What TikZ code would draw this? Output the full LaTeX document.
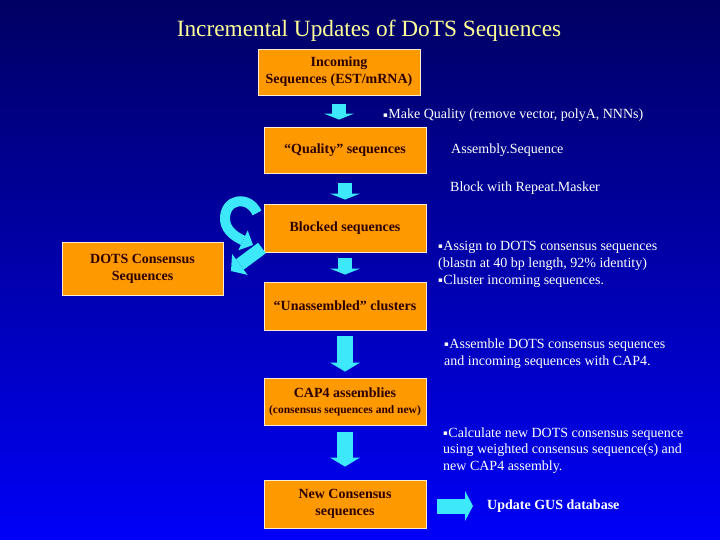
\documentclass[tikz,border=0pt]{standalone}
\usepackage{fontspec}
\setmainfont{Liberation Serif}
\newfontfamily\symfont{DejaVu Sans}
\usetikzlibrary{arrows.meta}
\definecolor{bgtop}{RGB}{0,0,98}
\definecolor{bgbot}{RGB}{0,0,248}
\definecolor{boxfill}{RGB}{255,153,0}
\definecolor{boxline}{RGB}{255,235,210}
\definecolor{boxtext}{RGB}{45,0,0}
\definecolor{titlecol}{RGB}{255,255,153}
\definecolor{arrowcol}{RGB}{60,232,250}
\newcommand\bul{\raisebox{1.6pt}{\symfont\fontsize{7}{7}\selectfont ▪}\hspace{0.5pt}}
\begin{document}
\begin{tikzpicture}[x=1pt,y=-1pt,
  box/.style={fill=boxfill, draw=boxline, line width=0.8pt, inner sep=0pt, align=center,
    text=boxtext, font=\fontsize{14}{17}\selectfont\bfseries},
  note/.style={anchor=base west, inner sep=0pt, text=white, font=\fontsize{14}{17}\selectfont},
  smallarr/.style={arrowcol, line width=14pt, -{Triangle[width=30pt,length=6pt,line width=0pt]}},
  bigarr/.style={arrowcol, line width=16pt, -{Triangle[width=30pt,length=9pt,line width=0pt]}},
  sidearr/.style={arrowcol, line width=15pt, -{Triangle[width=30pt,length=8pt,line width=0pt]}}
]
\useasboundingbox (0,0) rectangle (720,540);
\shade[top color=bgtop, bottom color=bgbot] (0,0) rectangle (720,540);

\node[font=\fontsize{23.3}{27}\selectfont, text=titlecol, anchor=base, inner sep=0pt] (title) at (369,37)
  {Incremental Updates of DoTS Sequences};

\node[box, minimum width=162pt, minimum height=46pt] (b1) at (339,72) {Incoming\\Sequences (EST/mRNA)};
\node[box, minimum width=162pt, minimum height=46pt] (b2) at (345,150) {“Quality” sequences};
\node[box, minimum width=162pt, minimum height=48pt] (b3) at (345,228) {Blocked sequences};
\node[box, minimum width=162pt, minimum height=48pt] (b4) at (345,306) {“Unassembled” clusters};
\node[box, minimum width=162pt, minimum height=47pt] (b5) at (345,401.5)
  {CAP4 assemblies\\[-1pt]{\fontsize{11.5}{13}\selectfont (consensus sequences and new)}};
\node[box, minimum width=162pt, minimum height=48pt] (b6) at (345,504) {New Consensus\\sequences};
\node[box, minimum width=161pt, minimum height=53pt] (dots) at (142.5,268.5) {DOTS Consensus\\Sequences};

% notes
\node[note] (mq) at (383,119) {\bul Make Quality (remove vector, polyA, NNNs)};
\node[note] (asq) at (451,154) {Assembly.Sequence};
\node[note] (bwr) at (450,192) {Block with Repeat.Masker};
\node[note] (asg1) at (438,250) {\bul Assign to DOTS consensus sequences};
\node[note] (asg2) at (438,267) {(blastn at 40 bp length, 92\% identity)};
\node[note] (asg3) at (438,284) {\bul Cluster incoming sequences.};
\node[note] (asm1) at (444,348) {\bul Assemble DOTS consensus sequences};
\node[note] (asm2) at (444,365) {and incoming sequences with CAP4.};
\node[note] (cal1) at (443,437) {\bul Calculate new DOTS consensus sequence};
\node[note] (cal2) at (443,453.5) {using weighted consensus sequence(s) and};
\node[note] (cal3) at (443,470) {new CAP4 assembly.};
\node[note, anchor=west, font=\fontsize{14}{17}\selectfont\bfseries] (gus) at (487,506) {Update GUS database};

% down arrows
\draw[smallarr, shorten <=9pt, shorten >=7pt] (b1.south) -- (b1.south |- b2.north);
\draw[smallarr, shorten <=10pt, shorten >=4pt] (b2.south) -- (b3.north);
\draw[smallarr, shorten <=6pt, shorten >=7pt] (b3.south) -- (b4.north);
\draw[bigarr, shorten <=6pt, shorten >=6pt] (b4.south) -- (b5.north);
\draw[bigarr, shorten <=7pt, shorten >=13pt] (b5.south) -- (b6.north);
\draw[sidearr, shorten <=11pt, shorten >=14pt] (b6.east |- gus.west) -- (gus.west);

% curved and diagonal arrows
\coordinate (c0) at (257,213);
\coordinate (c1) at (253,245);
\draw[arrowcol, line width=10pt, -{Triangle[width=22pt,length=11pt,line width=0pt]}]
  (c0) .. controls (249,195) and (224,198) .. (225,220) .. controls (226,232) and (238,238) .. (c1);
\coordinate (d0) at (262,248);
\coordinate (d1) at (231,271);
\draw[arrowcol, line width=13pt, -{Triangle[width=26pt,length=11pt,line width=0pt]}] (d0) -- (d1);
\end{tikzpicture}
\end{document}
